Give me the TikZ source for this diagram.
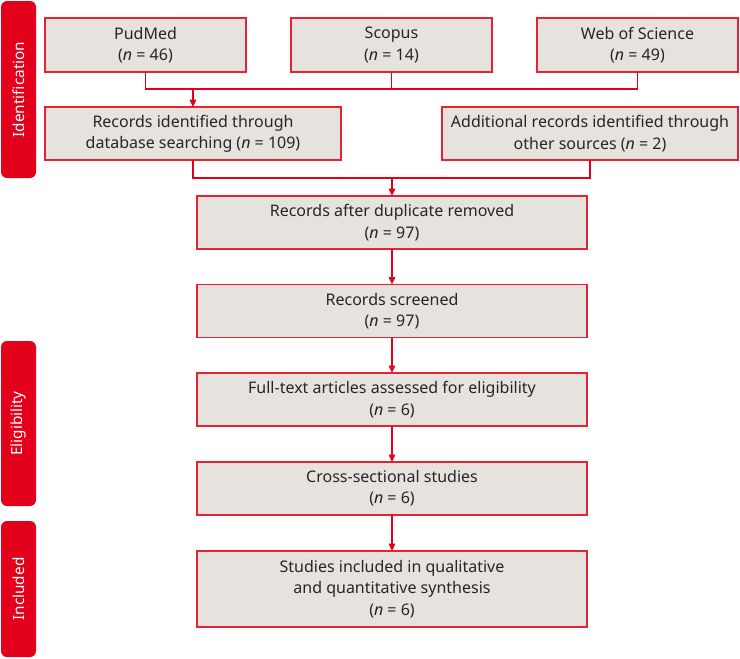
\documentclass[tikz,border=0pt]{standalone}
\usepackage{fontspec}
\setmainfont{Noto Sans}
\usepackage{tikz}
\usetikzlibrary{arrows.meta}
\definecolor{prismared}{RGB}{226,0,26}
\definecolor{prismaline}{RGB}{230,35,50}
\definecolor{prismafill}{RGB}{230,227,223}
\newcommand{\nval}[1]{(\textit{n}~=~#1)}
\tikzstyle{stagebox}=[draw=prismaline, fill=prismafill, line width=1.1pt, inner sep=0, outer sep=0,
                      align=center, font=\fontsize{12}{16}\selectfont, text=black!85]
\tikzstyle{srcbox}=[stagebox, minimum width=150.75pt, minimum height=40.5pt]
\tikzstyle{idbox}=[stagebox, minimum width=222pt, minimum height=39.75pt]
\tikzstyle{mainbox}=[stagebox, minimum width=292.5pt, minimum height=40pt]
\tikzstyle{phasebar}=[fill=prismared, rounded corners=4.5pt, rotate=90, inner sep=0, outer sep=0,
                      minimum height=26.25pt, text=white, font=\fontsize{11.5}{13}\selectfont]
\tikzstyle{link}=[draw=prismared, line width=0.8pt]
\tikzstyle{flow}=[link, -{Triangle[length=5.5pt, width=5pt]}]

\begin{document}
\begin{tikzpicture}[x=0.75pt, y=-0.75pt]
        \useasboundingbox (0, 0) rectangle (740, 658);
        % phase bars
        \node[phasebar, minimum width=132.75pt] (idbar) at (18.5, 89.5) {Identification};
        \node[phasebar, minimum width=123.75pt] (eligbar) at (18.5, 423.5) {Eligibility};
        \node[phasebar, minimum width=102pt] (inclbar) at (18.5, 589) {Included};
        % sources
        \node[srcbox] (pudmed) at (145.5, 45) {PudMed\\\nval{46}};
        \node[srcbox] (scopus) at (391.5, 45) {Scopus\\\nval{14}};
        \node[srcbox] (wos) at (637.5, 45) {Web of Science\\\nval{49}};
        \node[idbox] (dbsearch) at (193, 133.5) {Records identified through\\database searching \nval{109}};
        \node[idbox] (other) at (590, 133.5) {Additional records identified through\\other sources \nval{2}};
        % main flow
        \node[mainbox] (dedup) at (392, 222.5) {Records after duplicate removed\\\nval{97}};
        \node[mainbox] (screened) at (392, 311) {Records screened\\\nval{97}};
        \node[mainbox] (fulltext) at (392, 399.5) {Full-text articles assessed for eligibility\\\nval{6}};
        \node[mainbox] (cross) at (392, 488.5) {Cross-sectional studies\\\nval{6}};
        \node[mainbox, minimum height=57pt] (included) at (392, 589) {Studies included in qualitative\\and quantitative synthesis\\\nval{6}};
        \coordinate (srcjoin) at (193, 89);
        \coordinate (idjoin) at (392, 178);
        \draw[link] (pudmed.south) |- (srcjoin) -| (wos.south);
        \draw[link] (scopus.south) -- (scopus.south |- srcjoin);
        \draw[flow] (srcjoin) -- (dbsearch.north);
        \draw[link] (dbsearch.south) |- (idjoin) -| (other.south);
        \draw[flow] (idjoin) -- (dedup.north);
        \draw[flow] (dedup) -- (screened);
        \draw[flow] (screened) -- (fulltext);
        \draw[flow] (fulltext) -- (cross);
        \draw[flow] (cross) -- (included);
    \end{tikzpicture}
\end{document}
